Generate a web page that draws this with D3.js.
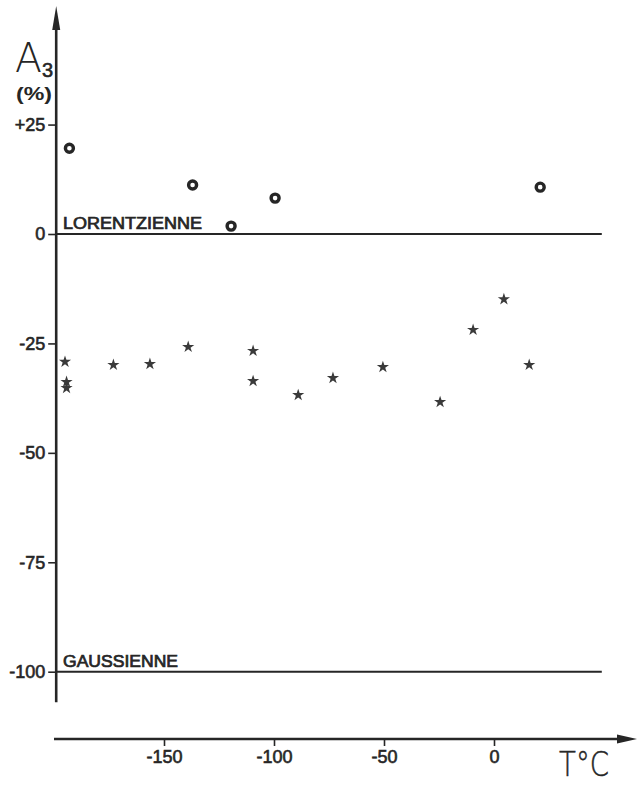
<!DOCTYPE html>
<html>
<head>
<meta charset="utf-8">
<script src="https://cdn.jsdelivr.net/npm/d3@7"></script>
<style>
  html, body { margin: 0; padding: 0; background: #fff; }
  svg { display: block; }
</style>
</head>
<body>
<svg id="chart" width="637" height="785"></svg>
<script>
// ======================
// Données
// ======================
const circleT = [-193, -137, -119.5, -99.5, 21];
const circleA = [19.6, 11.2, 1.8, 8.2, 10.7];

const starT = [-195, -194.3, -194.3, -173, -156.4, -139, -109.5, -109.5, -89, -73.2, -50.5, -24.5, -9.5, 4.5, 16];
const starA = [-29.2, -33.8, -35.2, -29.9, -29.7, -25.8, -26.7, -33.6, -36.8, -32.9, -30.4, -38.4, -21.9, -14.9, -29.9];

const yTicks = [25, 0, -25, -50, -75, -100];
const yTickLabels = ["+25", "0", "-25", "-50", "-75", "-100"];
const xTicks = [-150, -100, -50, 0];

const refLines = [
  { value: 0, label: "LORENTZIENNE" },
  { value: -100, label: "GAUSSIENNE" }
];

const ink = "#262626";
const sans = "'Liberation Sans', Arial, sans-serif";
const thinFont = "'DejaVu Sans', sans-serif";

const svg = d3.select("#chart");

// =========================
// Échelles
// =========================
const x = d3.scaleLinear().domain([-150, 0]).range([164, 494]);
const y = d3.scaleLinear().domain([-100, 0]).range([671.7, 234]);

const axisT = -199;   // position de l'axe vertical
const xAxisY = 739;

// texte un peu plus gras (imprimé)
function inked(sel, w) {
  sel.attr("stroke", ink)
    .attr("stroke-width", w)
    .attr("paint-order", "stroke");
}

// =========================
// Axe vertical
// =========================
svg.append("line")
  .attr("x1", x(axisT)).attr("x2", x(axisT))
  .attr("y1", y(-107)).attr("y2", 26)
  .attr("stroke", ink)
  .attr("stroke-width", 2.6);

svg.append("path")
  .attr("d", `M${x(axisT)},6 L${x(axisT) - 4},30 L${x(axisT) + 4},30 Z`)
  .attr("fill", ink);

const yAxis = svg.append("g")
  .attr("transform", `translate(${x(axisT)},0)`)
  .call(d3.axisLeft(y)
    .tickValues(yTicks)
    .tickSize(8)
    .tickPadding(3)
    .tickFormat((d, i) => yTickLabels[i]));

yAxis.select(".domain").remove();
yAxis.selectAll(".tick line").attr("stroke", ink).attr("stroke-width", 1.6);
yAxis.selectAll(".tick text")
  .attr("fill", ink)
  .style("font-family", sans)
  .style("font-size", "18px")
  .call(inked, 0.6);

// =========================
// Axe horizontal
// =========================
svg.append("line")
  .attr("x1", 54).attr("x2", 622)
  .attr("y1", xAxisY).attr("y2", xAxisY)
  .attr("stroke", ink)
  .attr("stroke-width", 2.6);

svg.append("path")
  .attr("d", `M637,${xAxisY} L617,${xAxisY - 4.5} L617,${xAxisY + 4.5} Z`)
  .attr("fill", ink);

const xAxis = svg.append("g")
  .attr("transform", `translate(0,${xAxisY})`)
  .call(d3.axisBottom(x)
    .tickValues(xTicks)
    .tickSize(7)
    .tickPadding(4)
    .tickFormat(d3.format("d")));

xAxis.select(".domain").remove();
xAxis.selectAll(".tick line").attr("stroke", ink).attr("stroke-width", 1.6);
xAxis.selectAll(".tick text")
  .attr("fill", ink)
  .style("font-family", sans)
  .style("font-size", "18px")
  .text(d => d < 0 ? "-" + Math.abs(d) : d)
  .call(inked, 0.6);

// =========================
// Titres des axes
// =========================
svg.append("text")
  .attr("x", 15).attr("y", 72)
  .attr("textLength", 27)
  .attr("lengthAdjust", "spacingAndGlyphs")
  .text("A")
  .style("font-family", thinFont)
  .style("font-size", "40px")
  .style("font-weight", "200")
  .attr("fill", ink);

svg.append("text")
  .attr("x", 42).attr("y", 77)
  .text("3")
  .style("font-family", sans)
  .style("font-size", "20px")
  .attr("fill", ink)
  .call(inked, 0.6);

svg.append("text")
  .attr("x", 16).attr("y", 100)
  .attr("textLength", 36)
  .attr("lengthAdjust", "spacingAndGlyphs")
  .text("(%)")
  .style("font-family", sans)
  .style("font-size", "18px")
  .style("font-weight", "bold")
  .attr("fill", ink);

svg.append("text")
  .attr("x", 559).attr("y", 776)
  .attr("textLength", 50)
  .attr("lengthAdjust", "spacingAndGlyphs")
  .text("T°C")
  .style("font-family", thinFont)
  .style("font-size", "34px")
  .style("font-weight", "200")
  .attr("fill", ink)
  .call(inked, 0.5);

// =========================
// Lignes de référence
// =========================
svg.selectAll(".ref-line")
  .data(refLines)
  .enter()
  .append("line")
  .attr("class", "ref-line")
  .attr("x1", x(axisT))
  .attr("x2", x(49))
  .attr("y1", d => y(d.value))
  .attr("y2", d => y(d.value))
  .attr("stroke", ink)
  .attr("stroke-width", 2);

svg.selectAll(".ref-label")
  .data(refLines)
  .enter()
  .append("text")
  .attr("class", "ref-label")
  .attr("x", 63)
  .attr("y", d => y(d.value) - 5)
  .attr("textLength", d => d.value === 0 ? 139 : 115)
  .attr("lengthAdjust", "spacingAndGlyphs")
  .text(d => d.label)
  .style("font-family", sans)
  .style("font-size", "16px")
  .attr("fill", ink)
  .call(inked, 0.7);

// =========================
// Points
// =========================
const circles = circleT.map((t, i) => ({ t, a: circleA[i] }));
const stars = starT.map((t, i) => ({ t, a: starA[i] }));

svg.selectAll(".circ")
  .data(circles)
  .enter()
  .append("circle")
  .attr("class", "circ")
  .attr("cx", d => x(d.t))
  .attr("cy", d => y(d.a))
  .attr("r", 4)
  .attr("fill", "#fff")
  .attr("stroke", ink)
  .attr("stroke-width", 3.4);

const star = d3.symbol().type(d3.symbolStar).size(46);

svg.selectAll(".star")
  .data(stars)
  .enter()
  .append("path")
  .attr("class", "star")
  .attr("transform", d => `translate(${x(d.t)},${y(d.a)})`)
  .attr("d", star)
  .attr("fill", "#3a3a3a");
</script>
</body>
</html>
